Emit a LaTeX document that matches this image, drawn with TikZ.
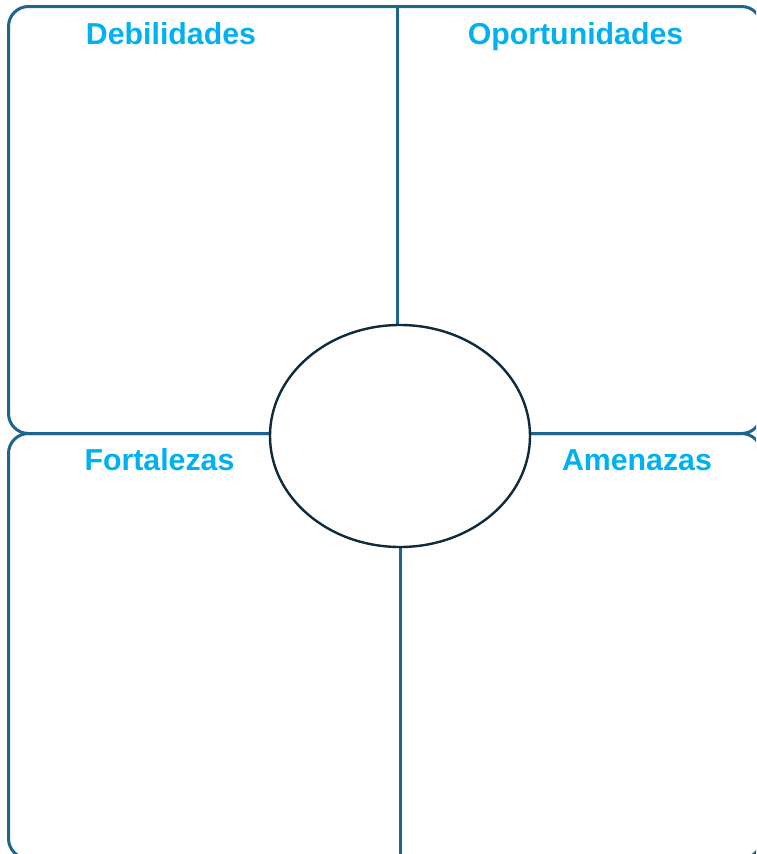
\documentclass[tikz,border=0pt]{standalone}
\usepackage{fontspec}
\setmainfont{Liberation Sans}
\newfontfamily\titlefont{Liberation Sans Bold}
\usetikzlibrary{shapes.geometric}
\definecolor{boxline}{RGB}{31,100,140}
\definecolor{ellline}{RGB}{14,42,59}
\definecolor{titlecol}{RGB}{0,176,240}
\tikzset{
  panel/.style={draw=boxline, line width=3pt, rounded corners=20pt, rectangle, inner sep=0pt},
  divider/.style={draw=boxline, line width=3pt},
  centre/.style={ellipse, draw=ellline, line width=2.4pt, fill=white, inner sep=0pt},
  heading/.style={text=titlecol, anchor=base, inner sep=0pt, font=\titlefont\fontsize{30.3}{35}\selectfont}
}
\begin{document}
\begin{tikzpicture}[x=1pt,y=-1pt]
\useasboundingbox (0,0) rectangle (756,854);
\clip (0,0) rectangle (756,854);
\node[panel, minimum width=753pt, minimum height=427pt, anchor=north west] (top) at (7,5) {};
\node[panel, minimum width=753pt, minimum height=425pt, anchor=north west] (bottom) at (7,432) {};
\coordinate (vt) at (397,5);
\coordinate (vtm) at (397,436);
\coordinate (vb) at (400,857);
\coordinate (vbm) at (400,436);
\draw[divider] (vt) -- (vtm);
\draw[divider] (vbm) -- (vb);
\node[centre, minimum width=260pt, minimum height=222pt] (c) at (400,436) {};
\node[heading] (d) at (171,44) {Debilidades};
\node[heading] (o) at (575.5,44) {Oportunidades};
\node[heading] (f) at (159.5,470) {Fortalezas};
\node[heading] (a) at (637,470) {Amenazas};
\end{tikzpicture}
\end{document}
